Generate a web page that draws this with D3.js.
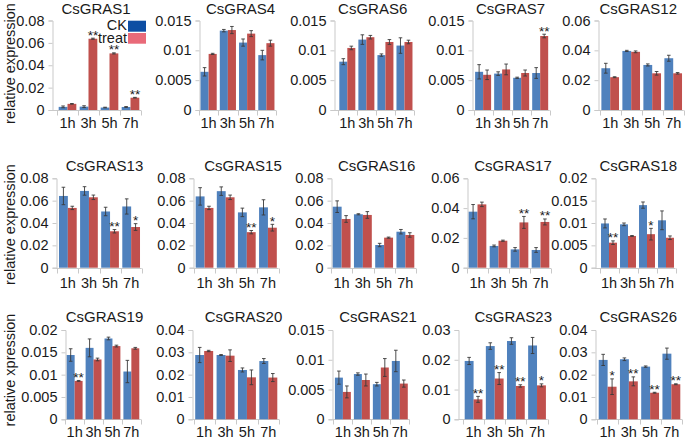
<!DOCTYPE html>
<html><head><meta charset="utf-8">
<script src="https://cdn.jsdelivr.net/npm/d3@7"></script>
<style>body{margin:0;background:#fff}svg{display:block}text{font-family:"Liberation Sans",Arial,sans-serif;fill:#1a1a1a}</style>
</head><body>
<script>
const genes = ["CsGRAS1","CsGRAS4","CsGRAS6","CsGRAS7","CsGRAS12","CsGRAS13","CsGRAS15","CsGRAS16","CsGRAS17","CsGRAS18","CsGRAS19","CsGRAS20","CsGRAS21","CsGRAS23","CsGRAS26"];
const times = ["1h","3h","5h","7h"];
const seriesNames = ["CK","treat"];
const ckMean = [
 [0.0028,0.0030,0.0022,0.0027],[0.0064,0.0133,0.0113,0.0092],[0.0081,0.0118,0.0092,0.0108],
 [0.0064,0.0061,0.0054,0.0062],[0.0280,0.0396,0.0302,0.0347],[0.0642,0.0687,0.0503,0.0548],
 [0.0638,0.0685,0.0495,0.0540],[0.0546,0.0478,0.0203,0.0322],[0.0376,0.0146,0.0123,0.0119],
 [0.0099,0.0097,0.0140,0.0106],[0.0144,0.0160,0.0181,0.0107],[0.0288,0.0288,0.0221,0.0261],
 [0.0070,0.0076,0.0059,0.0098],[0.0196,0.0246,0.0263,0.0248],[0.0266,0.0269,0.0236,0.0294]];
const ckErr = [
 [0.0008,0.0008,0.0003,0.0004],[0.0007,0.0002,0.0006,0.0008],[0.0005,0.0008,0.0002,0.0013],
 [0.0012,0.0003,0.0001,0.0009],[0.0033,0.0004,0.0007,0.0020],[0.0078,0.0038,0.0038,0.0068],
 [0.0078,0.0038,0.0038,0.0068],[0.0052,0.0005,0.0015,0.0020],[0.0048,0.0006,0.0012,0.0016],
 [0.0010,0.0003,0.0007,0.0021],[0.0014,0.0020,0.0003,0.0025],[0.0034,0.0002,0.0009,0.0011],
 [0.0011,0.0002,0.0003,0.0018],[0.0012,0.0011,0.0011,0.0027],[0.0025,0.0006,0.0003,0.0025]];
const treatMean = [
 [0.0055,0.0637,0.0506,0.0110],[0.0094,0.0134,0.0128,0.0112],[0.0104,0.0122,0.0114,0.0114],
 [0.0059,0.0068,0.0062,0.0124],[0.0220,0.0390,0.0246,0.0246],[0.0535,0.0630,0.0326,0.0364],
 [0.0535,0.0630,0.0318,0.0358],[0.0436,0.0472,0.0269,0.0293],[0.0425,0.0181,0.0304,0.0307],
 [0.0056,0.0071,0.0075,0.0067],[0.0086,0.0134,0.0164,0.0159],[0.0306,0.0285,0.0188,0.0187],
 [0.0046,0.0066,0.0087,0.0060],[0.0067,0.0137,0.0112,0.0114],[0.0146,0.0170,0.0119,0.0157]];
const treatErr = [
 [0.0003,0.0005,0.0005,0.0003],[0.0001,0.0006,0.0005,0.0005],[0.0003,0.0003,0.0004,0.0003],
 [0.0008,0.0009,0.0005,0.0003],[0.0003,0.0006,0.0012,0.0005],[0.0015,0.0020,0.0015,0.0030],
 [0.0015,0.0020,0.0015,0.0030],[0.0030,0.0030,0.0005,0.0020],[0.0015,0.0004,0.0040,0.0020],
 [0.0004,0.0001,0.0013,0.0004],[0.0001,0.0003,0.0002,0.0002],[0.0003,0.0026,0.0033,0.0018],
 [0.0010,0.0010,0.0015,0.0006],[0.0010,0.0020,0.0004,0.0005],[0.0035,0.0020,0.0002,0.0002]];
const treatSig = [
 ["","**","**","**"],["","","",""],["","","",""],["","","","**"],["","","",""],
 ["","","**","*"],["","","**","*"],["","","",""],["","","**","**"],["**","","*",""],
 ["**","","",""],["","","",""],["","","",""],["**","**","**","*"],["*","**","**","**"]];
const yMax  = [0.08,0.015,0.015,0.015,0.06,0.08,0.08,0.08,0.06,0.02,0.02,0.04,0.015,0.03,0.04];
const yStep = [0.02,0.005,0.005,0.005,0.02,0.02,0.02,0.02,0.02,0.005,0.005,0.01,0.005,0.01,0.01];
const rowLabels = ["relative expression","relative expression","relative xpression"];

// ---- layout (positions only) ----
const W = 685, H = 439;
const rows = [
 {top:20.5, zero:110,   title:13.5, xlab:127.5, ylab:63.5},
 {top:178.3,zero:267.7, title:171,  xlab:287.7, ylab:224.5},
 {top:330,  zero:419.3, title:321.7,xlab:437.3, ylab:370}];
const panelPos = [
 [52,57,141,96],[199,199,276,240.5],[334,337.8,414,372.7],[471.7,473.6,549.7,510.5],[597.7,599.7,683.7,638.3],
 [56,57.3,141.7,104.5],[193.3,194,278.5,243],[331,331,416,376.7],[466.7,467,551,513],[595,599.5,675.5,638.3],
 [65,65.2,140.8,104.5],[191.7,193.5,279,243.5],[332.3,333.4,409.3,378],[458.3,463,547.6,513.3],[595,597,682,638.3]];
const colors = {CK:"#4f81bd", treat:"#c0504d"};
const legendColors = {CK:"#0d4ea3", treat:"#e96a79"};
const axisColor = "#c9c9c9";
const fmt = d3.format("~g");

const svg = d3.select("body").append("svg").attr("width",W).attr("height",H);

rows.forEach((r,i)=>{
  svg.append("text").attr("transform",`translate(15,${r.ylab}) rotate(-90)`)
    .attr("text-anchor","middle").style("font-size","14.5px").text(rowLabels[i]);
});

genes.forEach((g,gi)=>{
  const r = rows[Math.floor(gi/5)];
  const [ax,c0,c1,tx] = panelPos[gi];
  const y = d3.scaleLinear().domain([0,yMax[gi]]).range([r.zero,r.top]);
  const x = d3.scaleBand().domain(times).range([c0,c1]).paddingInner(0.16).paddingOuter(0.08);
  const xs = d3.scaleBand().domain(seriesNames).range([0,x.bandwidth()]);
  const gp = svg.append("g");
  const ticks = d3.range(0, yMax[gi]+yStep[gi]/2, yStep[gi]);

  // y axis
  const yAxis = d3.axisLeft(y).tickValues(ticks).tickFormat(fmt).tickSize(4).tickPadding(4);
  const ya = gp.append("g").attr("transform",`translate(${Math.round(ax)+0.5},0)`).call(yAxis);
  ya.select(".domain").attr("stroke",axisColor);
  ya.selectAll(".tick line").attr("stroke",axisColor);
  ya.selectAll(".tick text").style("font-size","14.5px").attr("fill","#1a1a1a").style("font-family","Liberation Sans, Arial, sans-serif");

  // x axis line and category boundary ticks
  const zy = Math.round(r.zero)+0.5;
  gp.append("line").attr("x1",ax).attr("x2",c1).attr("y1",zy).attr("y2",zy).attr("stroke",axisColor);
  const step = x.step();
  d3.range(0,times.length+1).forEach(k=>{
    const bx = Math.round(c0 + k*step)+0.5;
    gp.append("line").attr("x1",bx).attr("x2",bx).attr("y1",zy).attr("y2",zy+5).attr("stroke",axisColor);
  });

  // bars
  const data = [];
  times.forEach((t,ti)=>{
    data.push({t, s:"CK", v:ckMean[gi][ti], e:ckErr[gi][ti], sig:""});
    data.push({t, s:"treat", v:treatMean[gi][ti], e:treatErr[gi][ti], sig:treatSig[gi][ti]});
  });
  gp.selectAll("rect.bar").data(data).enter().append("rect")
    .attr("x",d=>x(d.t)+xs(d.s)).attr("width",xs.bandwidth())
    .attr("y",d=>y(d.v)).attr("height",d=>y(0)-y(d.v))
    .attr("fill",d=>colors[d.s]);
  // error bars
  const eg = gp.selectAll("g.err").data(data).enter().append("g").attr("stroke","#3a3a3a").attr("stroke-width",0.9);
  eg.append("line").attr("x1",d=>x(d.t)+xs(d.s)+xs.bandwidth()/2).attr("x2",d=>x(d.t)+xs(d.s)+xs.bandwidth()/2)
    .attr("y1",d=>y(d.v-d.e)).attr("y2",d=>y(d.v+d.e));
  ["-","+"].forEach(sg=>{
    eg.append("line").attr("x1",d=>x(d.t)+xs(d.s)+xs.bandwidth()/2-1.8).attr("x2",d=>x(d.t)+xs(d.s)+xs.bandwidth()/2+1.8)
      .attr("y1",d=>y(sg==="-"?d.v-d.e:d.v+d.e)).attr("y2",d=>y(sg==="-"?d.v-d.e:d.v+d.e));
  });
  // significance
  gp.selectAll("text.sig").data(data.filter(d=>d.sig)).enter().append("text")
    .attr("x",d=>x(d.t)+xs(d.s)+xs.bandwidth()/2).attr("y",d=>y(d.v+d.e)+1.5)
    .attr("text-anchor","middle").style("font-size","13.5px").text(d=>d.sig);

  // x labels
  gp.selectAll("text.xl").data(times).enter().append("text")
    .attr("x",t=>x(t)+x.bandwidth()/2).attr("y",r.xlab).attr("text-anchor","middle")
    .style("font-size","14.5px").text(t=>t);
  // title
  gp.append("text").attr("x",tx).attr("y",r.title).attr("text-anchor","middle").style("font-size","15px").text(g);
});

// legend (in first panel)
const lg = svg.append("g");
seriesNames.forEach((s,i)=>{
  const yy = [20.7,33][i];
  lg.append("rect").attr("x",128).attr("y",yy).attr("width",18).attr("height",[11,10.7][i]).attr("fill",legendColors[s]);
  lg.append("text").attr("x",127).attr("y",[30,43][i]).attr("text-anchor","end").style("font-size","14.5px").text(s);
});
</script>
</body></html>
